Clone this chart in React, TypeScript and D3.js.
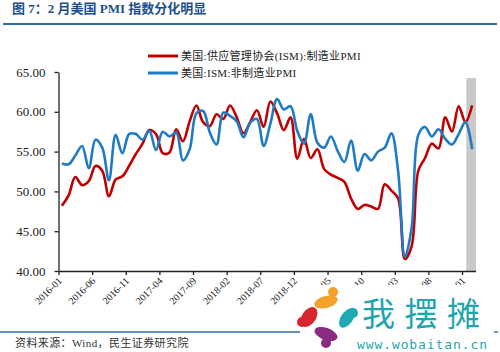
import * as d3 from "d3"
import { useEffect, useRef } from "react"

// ISM PMI, monthly 2016-01 .. 2021-02
const mfgPMI = [
  48.2, 49.5, 51.8, 50.8, 51.3, 53.2, 52.6, 49.4, 51.5, 51.9, 53.2, 54.7,
  56.0, 57.7, 57.2, 54.8, 54.9, 57.8, 56.3, 58.8, 60.8, 58.7, 58.2, 59.7,
  59.1, 60.8, 59.3, 57.3, 58.7, 60.2, 58.1, 61.3, 59.8, 57.7, 59.3, 54.1,
  56.6, 54.2, 55.3, 52.8, 52.1, 51.7, 51.2, 49.1, 47.8, 48.3, 48.1, 47.8,
  50.9, 50.1, 49.1, 41.5, 43.1, 52.6, 54.2, 56.0, 55.4, 59.3, 57.5, 60.7,
  58.7, 60.8,
]

const nonMfgPMI = [
  53.5, 53.4, 54.5, 55.7, 52.9, 56.5, 55.5, 51.4, 57.1, 54.8, 57.2, 57.2,
  56.5, 57.6, 55.2, 57.5, 56.9, 57.4, 53.9, 55.3, 59.8, 60.1, 57.4, 55.9,
  59.9, 59.5, 58.8, 56.8, 58.6, 59.1, 55.7, 58.5, 61.6, 60.3, 60.7, 57.6,
  56.0, 59.7, 56.1, 55.5, 56.9, 55.1, 53.7, 56.4, 52.6, 54.7, 53.9, 55.0,
  55.5, 57.3, 52.5, 41.8, 45.4, 57.1, 58.1, 56.9, 57.8, 56.6, 55.9, 57.2,
  58.7, 55.3,
]

const months = d3
  .timeMonths(new Date(2016, 0, 1), new Date(2021, 2, 1))
  .map(d3.timeFormat("%Y-%m"))

const tickLabels = [
  "2016-01", "2016-06", "2016-11", "2017-04", "2017-09", "2018-02", "2018-07",
  "2018-12", "2019-05", "2019-10", "2020-03", "2020-08", "2021-01",
]

const yTicks = [40, 45, 50, 55, 60, 65]

const seriesNames = ["美国:供应管理协会(ISM):制造业PMI", "美国:ISM:非制造业PMI"]
const seriesColors = ["#c00000", "#1f7bc4"]

const title = "图 7：2 月美国 PMI 指数分化明显"
const source = "资料来源：Wind，民生证券研究院"

const W = 500
const H = 352
const serif = "'Liberation Serif', 'Times New Roman', 'Noto Sans CJK SC', serif"

const App = () => {
  const svgRef = useRef<SVGSVGElement | null>(null)

  useEffect(() => {
    if (!svgRef.current) return
    const root = d3.select(svgRef.current)
    root.selectAll("*").remove()

    const left = 58.5
    const right = 475.5
    const top = 72
    const bottom = 271

    const x = d3.scaleLinear().domain([0, months.length]).range([left, right])
    const y = d3.scaleLinear().domain([40, 65]).range([bottom, top])

    root.append("rect").attr("width", W).attr("height", H).attr("fill", "#fff")

    // title + rule
    root
      .append("text")
      .attr("x", 12)
      .attr("y", 13)
      .style("font-family", serif)
      .style("font-size", "13px")
      .style("font-weight", "bold")
      .style("fill", "#1d4f8e")
      .text(title)
    root
      .append("line")
      .attr("x1", 3)
      .attr("x2", 497)
      .attr("y1", 24)
      .attr("y2", 24)
      .attr("stroke", "#2f6fae")
      .attr("stroke-width", 2)

    // shaded latest month
    const last = months.length - 1
    root
      .append("rect")
      .attr("x", x(last) - 2.5)
      .attr("y", 78)
      .attr("width", x(last + 1) - x(last) + 3)
      .attr("height", bottom - 78)
      .attr("fill", "#c9c9c9")

    // axes
    const yAxis = root
      .append("g")
      .attr("transform", `translate(${left},0)`)
      .call(
        d3
          .axisLeft(y)
          .tickValues(yTicks)
          .tickFormat(d3.format(".2f"))
          .tickSize(4)
          .tickSizeOuter(0)
          .tickPadding(9)
      )
    yAxis.select(".domain").attr("stroke", "#222").attr("stroke-width", 1.3)
    yAxis.selectAll(".tick line").attr("stroke", "#222").attr("stroke-width", 1.3)
    yAxis
      .selectAll("text")
      .style("font-family", serif)
      .style("font-size", "13px")
      .style("fill", "#222")

    const xAxis = root
      .append("g")
      .attr("transform", `translate(0,${bottom})`)
      .call(
        d3
          .axisBottom(x)
          .tickValues(tickLabels.map(t => months.indexOf(t)))
          .tickFormat(i => months[i as number])
          .tickSize(4)
          .tickSizeOuter(0)
      )
    xAxis.select(".domain").attr("stroke", "#222").attr("stroke-width", 1.3)
    xAxis.selectAll(".tick line").attr("stroke", "#222").attr("stroke-width", 1.3)
    xAxis
      .selectAll("text")
      .attr("x", 0)
      .attr("y", 0)
      .attr("dy", "0.35em")
      .attr("transform", "translate(1,8) rotate(-45)")
      .attr("text-anchor", "end")
      .style("font-family", serif)
      .style("font-size", "10px")
      .style("fill", "#222")

    // lines
    const line = d3
      .line<number>()
      .x((_d, i) => x(i + 0.5))
      .y(d => y(d))
      .curve(d3.curveCatmullRom.alpha(0.5))

    ;[mfgPMI, nonMfgPMI].forEach((s, k) => {
      root
        .append("path")
        .datum(s)
        .attr("d", line)
        .attr("fill", "none")
        .attr("stroke", seriesColors[k])
        .attr("stroke-width", 2.6)
        .attr("stroke-linejoin", "round")
    })

    // legend
    seriesNames.forEach((name, k) => {
      const ly = 56 + k * 17
      root
        .append("line")
        .attr("x1", 148)
        .attr("x2", 178)
        .attr("y1", ly)
        .attr("y2", ly)
        .attr("stroke", seriesColors[k])
        .attr("stroke-width", 3)
      root
        .append("text")
        .attr("x", 181)
        .attr("y", ly + 4)
        .style("font-family", serif)
        .style("font-size", "11px")
        .style("letter-spacing", "0.3px")
        .style("fill", "#222")
        .text(name)
    })

    // footer
    root
      .append("line")
      .attr("x1", 0)
      .attr("x2", 498)
      .attr("y1", 332)
      .attr("y2", 332)
      .attr("stroke", "#2f6fae")
      .attr("stroke-width", 1.5)
    root
      .append("text")
      .attr("x", 15)
      .attr("y", 347)
      .style("font-family", serif)
      .style("font-size", "11px")
      .style("letter-spacing", "0.4px")
      .style("fill", "#333")
      .text(source)

    // watermark
    const wm = root.append("g")
    wm.append("rect").attr("x", 300).attr("y", 285).attr("width", 194).attr("height", 67).attr("fill", "#fff")
    wm.append("ellipse").attr("cx", 309).attr("cy", 317).attr("rx", 7).attr("ry", 11).attr("transform", "rotate(35 309 317)").attr("fill", "#d8262e")
    wm.append("circle").attr("cx", 302).attr("cy", 322).attr("r", 5).attr("fill", "#d8262e")
    wm.append("ellipse").attr("cx", 326).attr("cy", 302).attr("rx", 12).attr("ry", 6).attr("transform", "rotate(-15 326 302)").attr("fill", "#f2a22a")
    wm.append("circle").attr("cx", 333).attr("cy", 292).attr("r", 5).attr("fill", "#f2a22a")
    wm.append("ellipse").attr("cx", 347).attr("cy", 318).attr("rx", 6).attr("ry", 11).attr("transform", "rotate(35 347 318)").attr("fill", "#1fa9b5")
    wm.append("circle").attr("cx", 353).attr("cy", 313).attr("r", 5).attr("fill", "#1fa9b5")
    wm.append("ellipse").attr("cx", 326).attr("cy", 334).attr("rx", 12).attr("ry", 6).attr("transform", "rotate(20 326 334)").attr("fill", "#8b2a82")
    wm.append("circle").attr("cx", 326).attr("cy", 343).attr("r", 5).attr("fill", "#8b2a82")
    wm.append("text")
      .attr("x", 362)
      .attr("y", 326)
      .attr("textLength", 118)
      .style("font-family", "'Noto Sans CJK SC', sans-serif")
      .style("font-size", "33px")
      .style("fill", "#1fa5ad")
      .text("我摆摊")
    wm.append("text")
      .attr("x", 357)
      .attr("y", 349)
      .attr("textLength", 130)
      .style("font-family", "'DejaVu Sans Mono', monospace")
      .style("font-size", "13px")
      .style("fill", "#1fa5ad")
      .text("www.wobaitan.cn")
  }, [])

  return (
    <svg
      ref={svgRef}
      width={W}
      height={H}
      style={{ position: "absolute", left: 0, top: 0, display: "block" }}
    />
  )
}

export default App
